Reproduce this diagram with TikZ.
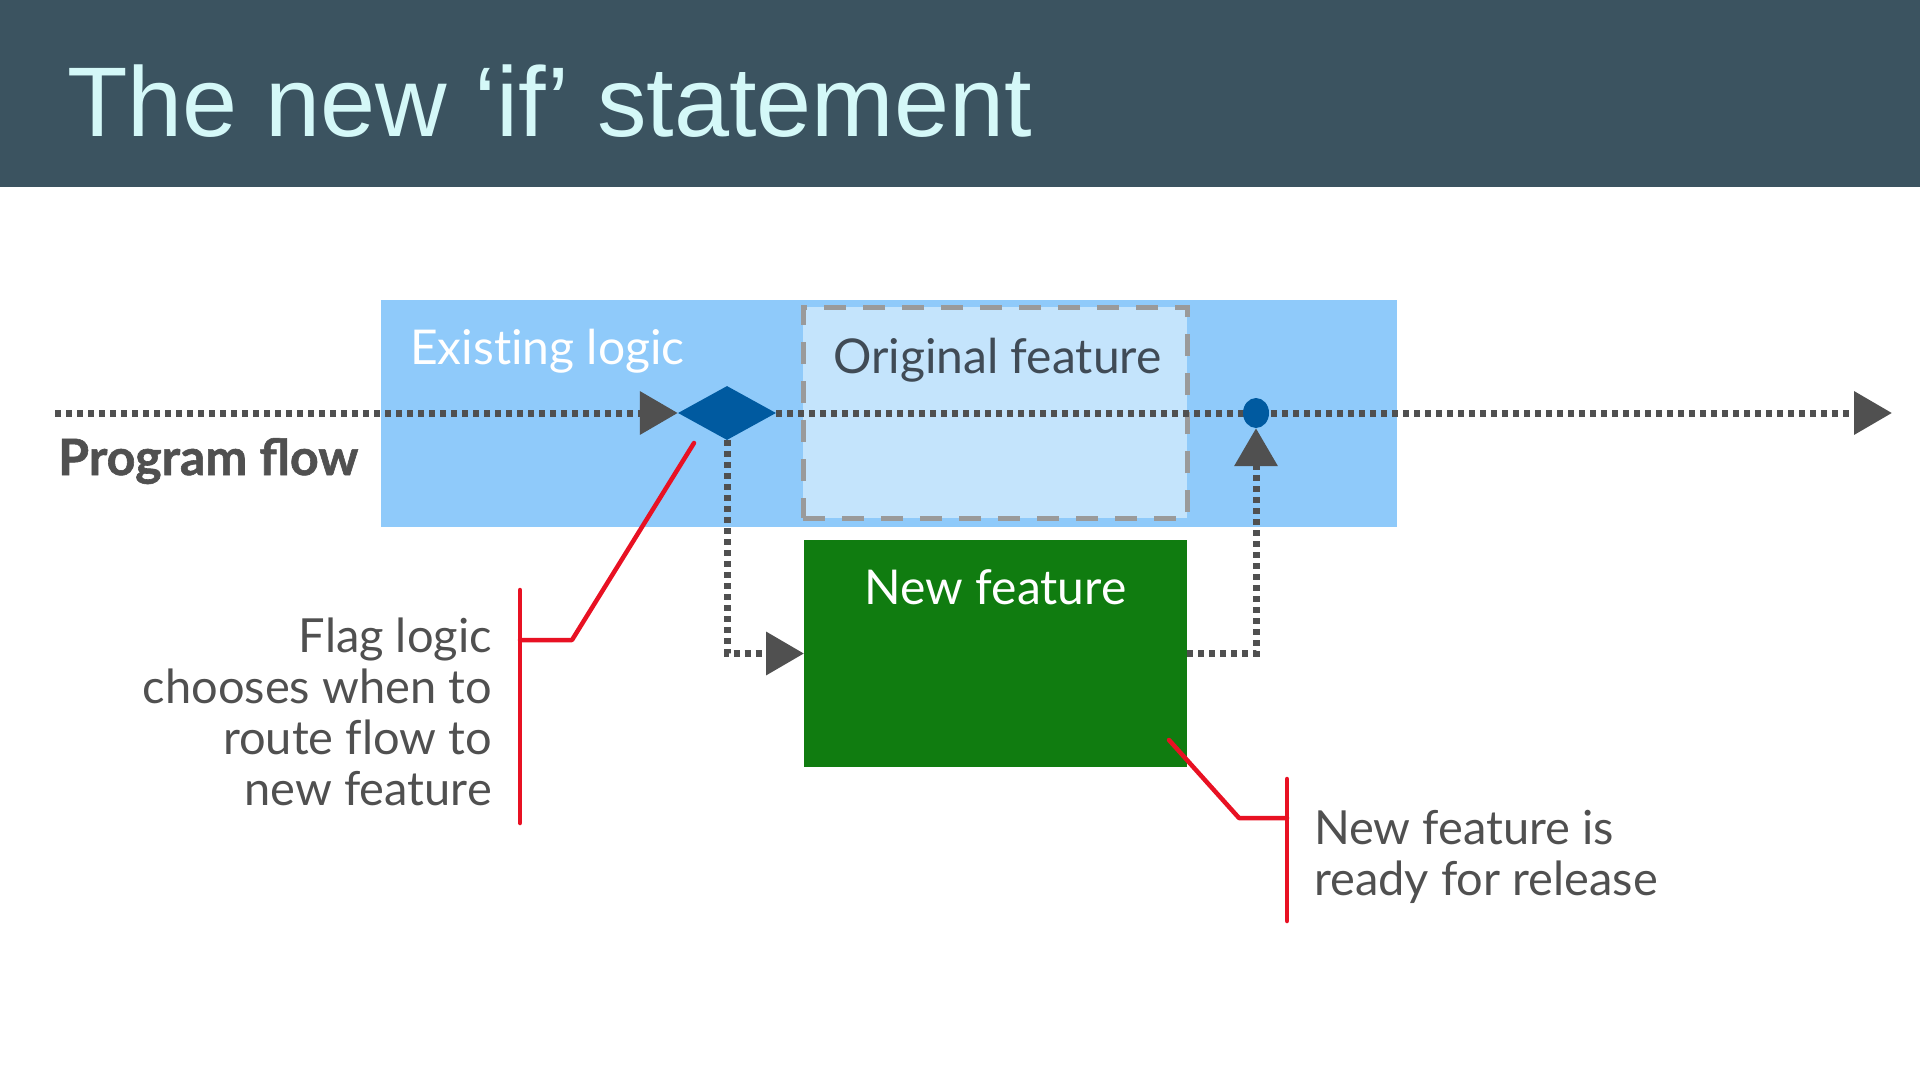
\documentclass[tikz,border=0pt]{standalone}
\usepackage{fontspec}
\setmainfont{Lato}[Ligatures=NoCommon]
\newfontfamily\titlefont{Liberation Sans}
\newfontfamily\heavyfont[BoldFeatures={FakeBold=1.2}]{Lato}
\usetikzlibrary{arrows.meta,shapes.geometric,calc}
\pgfdeclarelayer{back}\pgfdeclarelayer{mid}\pgfsetlayers{back,mid,main}
\definecolor{band}{HTML}{3B5360}
\definecolor{titletext}{HTML}{D4F8F8}
\definecolor{existblue}{HTML}{8FCAFA}
\definecolor{origblue}{HTML}{C4E4FC}
\definecolor{dashgray}{HTML}{9A9A9A}
\definecolor{newgreen}{HTML}{107C10}
\definecolor{darkblue}{HTML}{005AA0}
\definecolor{flowgray}{HTML}{505050}
\definecolor{textgray}{HTML}{505050}
\definecolor{origtext}{HTML}{404B56}
\definecolor{calloutred}{HTML}{E81123}
\begin{document}
\begin{tikzpicture}[x=1pt,y=-1pt,
  flow/.style={draw=flowgray,line width=7pt,dash pattern=on 6pt off 5pt},
  tipped/.style={-{Triangle[length=38pt,width=42pt]}},
  callout/.style={draw=calloutred,line width=4.5pt,line cap=round,line join=round},
  box/.style={inner sep=0pt,outer sep=0pt,anchor=north west},
  lbl/.style={inner sep=0pt,text=textgray,font=\fontsize{47}{51}\selectfont}]
\useasboundingbox (0,0) rectangle (1920,1081);
% header
\begin{pgfonlayer}{back}
\fill[band] (0,0) rectangle (1920,187);
\end{pgfonlayer}
\node[inner sep=0pt,anchor=base west,text=titletext,font=\titlefont\fontsize{99}{104}\selectfont] (title) at (67,136) {The new ‘if’ statement};
% boxes
\begin{pgfonlayer}{back}
\node[box,fill=existblue,minimum width=1016pt,minimum height=227pt] (exist) at (381,300) {};
\node[box,fill=origblue,draw=dashgray,line width=5pt,dash pattern=on 22pt off 17pt,minimum width=384pt,minimum height=211pt] (orig) at (803,307) {};
\node[box,fill=newgreen,minimum width=383pt,minimum height=227pt] (newf) at (804,540) {};
\end{pgfonlayer}
\node[inner sep=0pt,anchor=base west,text=white,font=\fontsize{48}{52}\selectfont] (existlbl) at ($(exist.north west)+(29,64)$) {Existing logic};
\node[inner sep=0pt,anchor=base west,text=origtext,font=\fontsize{48}{52}\selectfont] (origlbl) at ($(orig.north west)+(30,66)$) {Original feature};
\node[inner sep=0pt,anchor=base,text=white,font=\fontsize{48}{52}\selectfont] (newlbl) at ($(newf.north)+(0,64)$) {New feature};
% flow elements
\node[diamond,fill=darkblue,inner sep=0pt,minimum width=98pt,minimum height=54pt] (dia) at (727,413) {};
\node[ellipse,fill=darkblue,inner sep=0pt,minimum width=26pt,minimum height=30pt] (dot) at (1256,413) {};
\coordinate (start) at (55,413);
\coordinate (finish) at (1892,413);
\begin{pgfonlayer}{mid}
\draw[flow,tipped] (start) -- (dia.west);
\draw[flow,tipped] (dia.east) -- (finish);
\draw[flow,tipped] (dia.south) |- (newf.west);
\draw[flow,tipped] (newf.east) -| (dot.south);
\end{pgfonlayer}
\node[inner sep=0pt,anchor=base west,text=textgray,font=\heavyfont\bfseries\fontsize{50}{54}\selectfont] (pflow) at (58,475) {Program flow};
% callouts
\node[lbl,anchor=base east,align=right] (flaglbl) at (492,805) {Flag logic\\chooses when to\\route flow to\\new feature};
\node[lbl,anchor=base west,align=left] (readylbl) at (1314,895) {New feature is\\ready for release};
\coordinate (c1a) at (694,443);
\coordinate (c1b) at (572,640);
\coordinate (c1c) at (520,640);
\coordinate (b1t) at (520,590);
\coordinate (b1b) at (520,823);
\draw[callout] (c1a) -- (c1b) -- (c1c);
\draw[callout] (b1t) -- (b1b);
\coordinate (c2a) at (1169,740);
\coordinate (c2b) at (1239,818);
\coordinate (c2c) at (1287,818);
\coordinate (b2t) at (1287,779);
\coordinate (b2b) at (1287,921);
\draw[callout] (c2a) -- (c2b) -- (c2c);
\draw[callout] (b2t) -- (b2b);
\end{tikzpicture}
\end{document}
